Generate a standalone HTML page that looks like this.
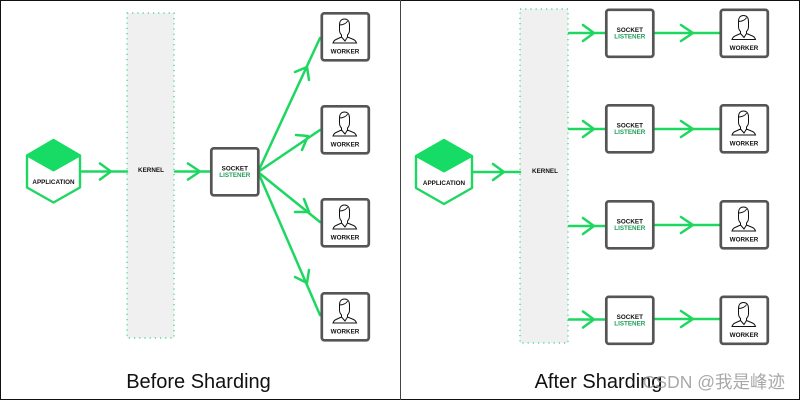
<!DOCTYPE html>
<html><head><meta charset="utf-8"><style>
html,body{margin:0;padding:0;background:#fff}
svg{display:block}
.t{font-family:"Liberation Sans",sans-serif;font-weight:700;font-size:6.3px;text-anchor:middle;fill:#111}
.g{fill:#1f9d55}
.cap{font-family:"Liberation Sans",sans-serif;font-size:20px;fill:#111;text-anchor:middle}
.l{stroke:#1ed760;stroke-width:2.5;fill:none;stroke-linecap:round;stroke-linejoin:round}
.b{fill:#fff;stroke:#555;stroke-width:2.7}
.k{fill:#f0f0f0}
.d{fill:none;stroke:#2ad67c;stroke-width:1.2;stroke-dasharray:1.2 4}
.p{fill:none;stroke:#111;stroke-width:1}
</style></head><body>
<svg width="800" height="400" viewBox="0 0 800 400" xmlns="http://www.w3.org/2000/svg">
<defs>
<g id="w">
<rect class="b" x="1.3" y="1.3" width="47" height="47" rx="2.500"/>
<path class="p" d="M19 13c0-4 2-6 5-6s5 2 5 6v5c0 2.500-1 4-2 5v2l6 2.500c1.500.7 2.500 2 3 3.500H12.500c.5-1.500 1.500-2.800 3-3.500L21 25v-2c-1-1-2-2.500-2-5zM19 13c3 0 7-1.500 8-4M21 25l3.500 4 2.500-4"/>
<text class="t" x="24.500" y="41.500">WORKER</text>
</g>
<g id="s">
<rect class="b" x="1.3" y="1.3" width="47" height="47" rx="2.500"/>
<text class="t" x="24.800" y="23.300">SOCKET</text>
<text class="t g" x="24.800" y="29.800">LISTENER</text>
</g>
</defs>
<rect x=".5" y=".5" width="799" height="399" fill="#fff" stroke="#111"/>
<path d="M400.500 0v400" stroke="#444"/>

<rect class="k" x="127" y="13" width="47" height="325"/>
<rect class="d" x="127" y="13" width="47" height="325"/>
<rect class="k" x="520" y="9" width="48" height="334"/>
<rect class="d" x="520" y="9" width="48" height="334"/>
<text class="t" x="151" y="172">KERNEL</text>
<text class="t" x="545" y="173">KERNEL</text>

<!-- app left -->
<path d="M53.500 140 80 155.500V187.500L53.500 202.500 27 187.500V155.500Z" fill="#fff" stroke="#1ed760" stroke-width="2.400" stroke-linejoin="round"/>
<path d="M53.500 140 80 155.500 53.500 170.500 27 155.500Z" fill="#16dc66" stroke="#16dc66" stroke-width="2" stroke-linejoin="round"/>
<text class="t" x="53.500" y="184">APPLICATION</text>
<!-- app right -->
<path d="M444 140 472 156V188L444 204 416 188V156Z" fill="#fff" stroke="#1ed760" stroke-width="2.400" stroke-linejoin="round"/>
<path d="M444 140 472 156 444 171.500 416 156Z" fill="#16dc66" stroke="#16dc66" stroke-width="2" stroke-linejoin="round"/>
<text class="t" x="444" y="185">APPLICATION</text>

<!-- arrows left -->
<path class="l" d="M82 171.500H127M100 163.500l11 8-11 8"/>
<path class="l" d="M175 171.500H210M188 163.500l12 8-12 8"/>
<path class="l" d="M258 172 320 38M295 72l12-5 2 13"/>
<path class="l" d="M258 172 320 130M296 135l12 1-6 14"/>
<path class="l" d="M258 172 320 222M304 199l5 13-14 0"/>
<path class="l" d="M258 172 320 315M309 270l-2 13-12-6"/>

<!-- arrows right -->
<path class="l" d="M473 172H520M493 164l11 8-11 8"/>
<path class="l" d="M569 33H605M583 25l11 8-11 8M655 33H719M681 25l12 8-12 8"/>
<path class="l" d="M569 129H605M583 121l11 8-11 8M655 129H719M681 121l12 8-12 8"/>
<path class="l" d="M569 226H605M583 218l11 8-11 8M655 225H719M681 217l12 8-12 8"/>
<path class="l" d="M569 319.500H605M583 311.500l11 8-11 8M655 319H719M681 311l12 8-12 8"/>

<use href="#s" x="210" y="147"/>
<use href="#w" x="320.500" y="12"/>
<use href="#w" x="320.500" y="105"/>
<use href="#w" x="320.500" y="198"/>
<use href="#w" x="320.500" y="292"/>

<use href="#s" x="605" y="8.500"/>
<use href="#s" x="605" y="104"/>
<use href="#s" x="605" y="200"/>
<use href="#s" x="605" y="295.500"/>
<use href="#w" x="719.500" y="8.500"/>
<use href="#w" x="719.500" y="104"/>
<use href="#w" x="719.500" y="200"/>
<use href="#w" x="719.500" y="295.500"/>

<text class="cap" x="198.500" y="388">Before Sharding</text>
<text class="cap" x="598.500" y="388">After Sharding</text>
<text x="785" y="388" font-family="'Liberation Sans','Noto Sans CJK SC',sans-serif" font-size="17.500" fill="#999" fill-opacity=".85" text-anchor="end">CSDN @我是峰迹</text>
</svg>
</body></html>
